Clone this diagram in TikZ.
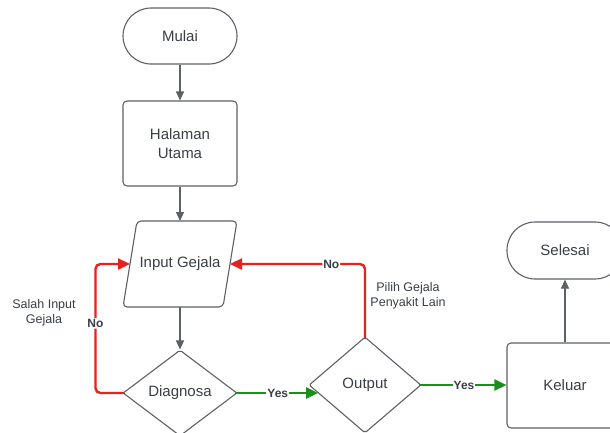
\documentclass[tikz,border=0pt]{standalone}
\usepackage{fontspec}
\setmainfont{Liberation Sans}
\usetikzlibrary{shapes.geometric,arrows.meta,calc}
\definecolor{txt}{HTML}{3A3F46}
\definecolor{edge}{HTML}{5C6168}
\definecolor{lred}{HTML}{E8201E}
\definecolor{lgreen}{HTML}{1B8F1B}
\begin{document}
\begin{tikzpicture}[x=1pt,y=-1pt,
  box/.style={draw=edge, line width=1.1pt, rounded corners=4pt, text=txt,
    font=\fontsize{15}{19.5}\selectfont, align=center, inner sep=0pt},
  term/.style={box, rounded corners=28pt},
  dec/.style={box, diamond, rounded corners=2pt},
  flow/.style={draw=edge, line width=1.1pt, -{Triangle[length=9pt,width=8pt]}},
  redline/.style={draw=lred, line width=2.4pt, rounded corners=5pt, shorten <=-1.5pt, -{Triangle[length=12pt,width=11pt]}},
  greenline/.style={draw=lgreen, line width=2.4pt, shorten <=-1.5pt, -{Triangle[length=12pt,width=11pt]}},
  lab/.style={font=\bfseries\fontsize{12}{14}\selectfont, text=txt, fill=white, inner sep=1pt},
  note/.style={font=\fontsize{12.5}{15}\selectfont, text=txt, align=center}]
\useasboundingbox (0,0) rectangle (610,432);
\clip (0,0) rectangle (610,432);
\fill[white] (0,0) rectangle (610,432);

\node[term, minimum width=114, minimum height=56] (mulai) at (180,36) {Mulai};
\node[box, minimum width=114, minimum height=85] (hal) at (180,143.5) {Halaman\\Utama};

\coordinate (p1) at (137,221);
\coordinate (p2) at (237,221);
\coordinate (p3) at (223,307);
\coordinate (p4) at (123,307);
\draw[draw=edge, line width=1.1pt, rounded corners=4pt] (p1) -- (p2) -- (p3) -- (p4) -- cycle;
\node[text=txt, font=\fontsize{15}{19.5}\selectfont] (inp) at (180,264) {Input Gejala};
\coordinate (inpT) at (180,221);
\coordinate (inpB) at (180,307);
\coordinate (inpL) at ($(p1)!0.5!(p4)$);
\coordinate (inpR) at ($(p2)!0.5!(p3)$);

\node[dec, minimum width=114, minimum height=86] (dia) at (180,393) {Diagnosa};
\node[dec, minimum width=112, minimum height=96] (out) at (365,385) {Output};
\node[box, minimum width=116, minimum height=85] (kel) at (565,385.5) {Keluar};
\node[term, minimum width=116, minimum height=57] (sel) at (565,250.5) {Selesai};

\draw[flow] (mulai) -- (hal);
\draw[flow] (hal) -- (inpT);
\draw[flow] (inpB) -- (dia);
\draw[flow] (kel) -- (sel);

\draw[greenline] (dia.east) -- node[lab]{Yes} (dia.east -| out.190);
\draw[greenline] (out.east) -- node[lab]{Yes} (out.east -| kel.west);
\draw[redline] (out.north) |- node[lab,pos=0.625]{No} (inpR);
\draw[redline] (dia.west) -- ++(-27,0) |- node[lab,pos=0.27]{No} (inpL);

\node[note] (n1) at (44,313) {Salah Input\\Gejala};
\node[note] (n2) at (408,296) {Pilih Gejala\\Penyakit Lain};
\end{tikzpicture}
\end{document}
